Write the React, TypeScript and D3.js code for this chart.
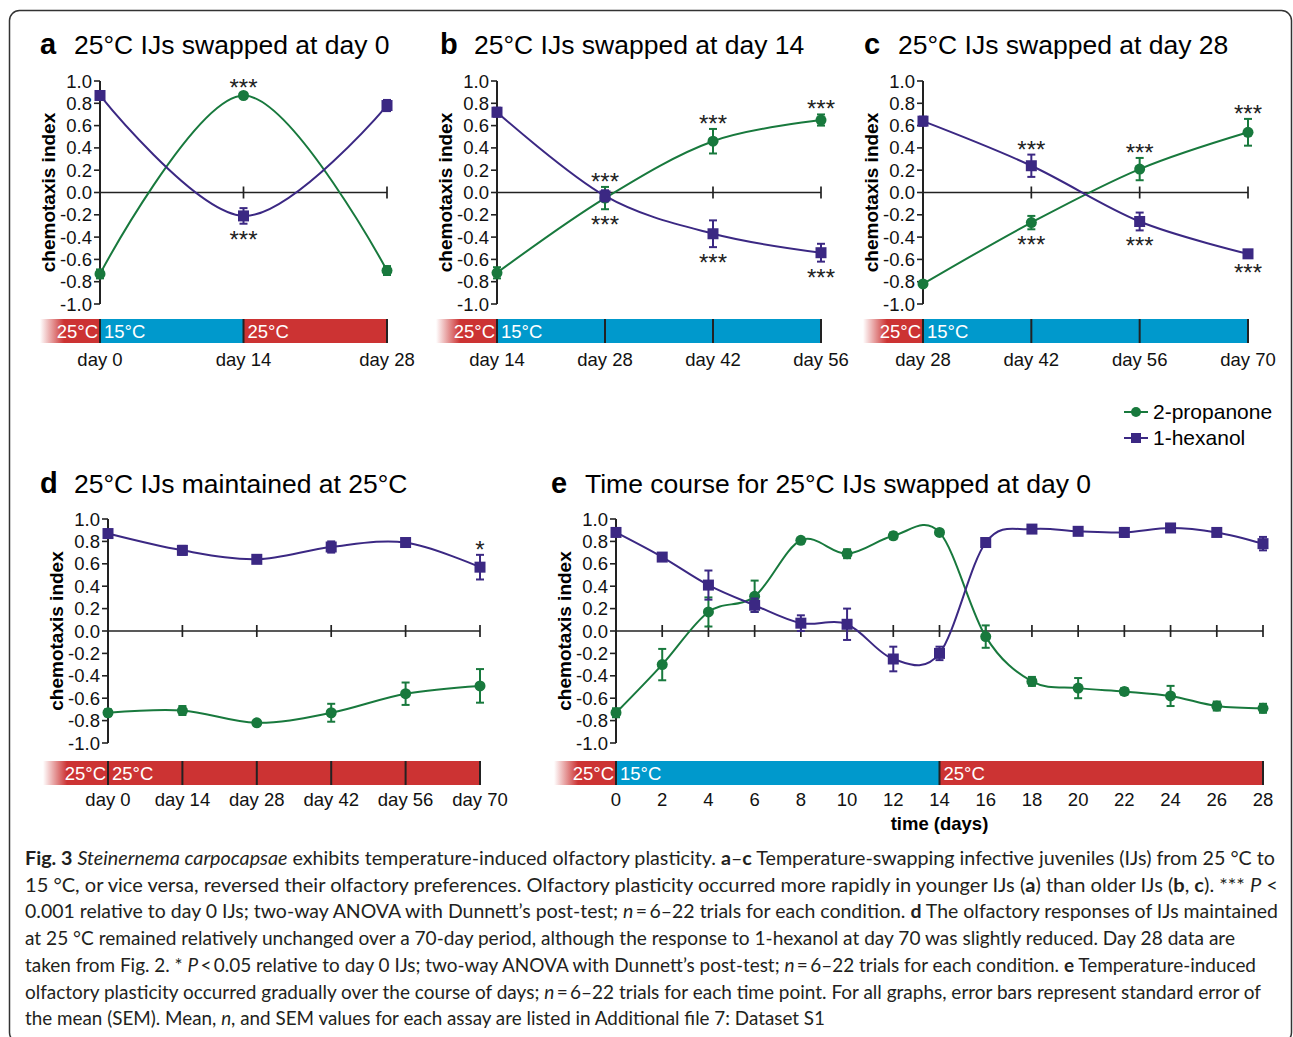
import React from 'react';
import * as d3 from 'd3';

// chemotaxis index values (mean, SEM)
const A_DAYS = [0, 14, 28];
const A_XLABELS = ['day 0', 'day 14', 'day 28'];
const A_PROP = [-0.73, 0.87, -0.7];
const A_PROP_SEM = [0.04, 0.02, 0.04];
const A_HEX = [0.87, -0.21, 0.78];
const A_HEX_SEM = [0.03, 0.07, 0.05];

const B_DAYS = [14, 28, 42, 56];
const B_XLABELS = ['day 14', 'day 28', 'day 42', 'day 56'];
const B_PROP = [-0.72, -0.05, 0.46, 0.65];
const B_PROP_SEM = [0.05, 0.1, 0.11, 0.05];
const B_HEX = [0.72, -0.03, -0.37, -0.54];
const B_HEX_SEM = [0.04, 0.05, 0.12, 0.08];

const C_DAYS = [28, 42, 56, 70];
const C_XLABELS = ['day 28', 'day 42', 'day 56', 'day 70'];
const C_PROP = [-0.82, -0.27, 0.21, 0.54];
const C_PROP_SEM = [0.02, 0.06, 0.1, 0.12];
const C_HEX = [0.64, 0.24, -0.26, -0.55];
const C_HEX_SEM = [0.04, 0.1, 0.08, 0.03];

const D_DAYS = [0, 14, 28, 42, 56, 70];
const D_XLABELS = ['day 0', 'day 14', 'day 28', 'day 42', 'day 56', 'day 70'];
const D_PROP = [-0.73, -0.71, -0.82, -0.73, -0.56, -0.49];
const D_PROP_SEM = [0.03, 0.04, 0.02, 0.08, 0.1, 0.15];
const D_HEX = [0.87, 0.72, 0.64, 0.75, 0.79, 0.57];
const D_HEX_SEM = [0.03, 0.04, 0.03, 0.05, 0.03, 0.11];

const E_DAYS = [0, 2, 4, 6, 8, 10, 12, 14, 16, 18, 20, 22, 24, 26, 28];
const E_XLABELS = ['0', '2', '4', '6', '8', '10', '12', '14', '16', '18', '20', '22', '24', '26', '28'];
const E_PROP = [-0.73, -0.3, 0.17, 0.31, 0.81, 0.69, 0.85, 0.88, -0.05, -0.45, -0.51, -0.54, -0.58, -0.67, -0.69];
const E_PROP_SEM = [0.04, 0.14, 0.13, 0.14, 0.02, 0.04, 0.03, 0.02, 0.1, 0.04, 0.09, 0.03, 0.09, 0.04, 0.04];
const E_HEX = [0.88, 0.66, 0.41, 0.23, 0.07, 0.06, -0.25, -0.2, 0.79, 0.91, 0.89, 0.88, 0.92, 0.88, 0.78];
const E_HEX_SEM = [0.03, 0.03, 0.13, 0.06, 0.07, 0.14, 0.11, 0.06, 0.02, 0.02, 0.02, 0.04, 0.02, 0.02, 0.06];

const Y_TICKS = [1.0, 0.8, 0.6, 0.4, 0.2, 0.0, -0.2, -0.4, -0.6, -0.8, -1.0];

// significance marks: point index, above/below the pair of points
const A_STARS = [{ i: 1, side: 'above', label: '***' }, { i: 1, side: 'below', label: '***' }];
const B_STARS = [1, 2, 3].flatMap((i) => [
  { i, side: 'above', label: '***' },
  { i, side: 'below', label: '***' },
]);
const C_STARS = B_STARS;
const D_STARS = [{ i: 5, side: 'above', label: '*' }];

// temperature bar segments (start day, end day, temperature)
const A_TEMPS = [{ from: 0, to: 14, t: '15°C' }, { from: 14, to: 28, t: '25°C' }];
const B_TEMPS = [{ from: 14, to: 56, t: '15°C' }];
const C_TEMPS = [{ from: 28, to: 70, t: '15°C' }];
const D_TEMPS = [{ from: 0, to: 70, t: '25°C' }];
const E_TEMPS = [{ from: 0, to: 14, t: '15°C' }, { from: 14, to: 28, t: '25°C' }];

const GREEN = '#18793d';
const PURPLE = '#3b2883';
const RED = '#cc3333';
const BLUE = '#0099cc';
const INK = '#231f20';
const FONT = "'Liberation Sans', Arial, Helvetica, sans-serif";

type Star = { i: number; side: string; label: string };
type Temp = { from: number; to: number; t: string };

interface PanelCfg {
  id: string;
  letter: string;
  title: string;
  titleX: number;
  titleY: number;
  axisX: number;
  endX: number;
  yTop: number;
  yBot: number;
  barLeft: number;
  barY: number;
  labelY: number;
  days: number[];
  xLabels: string[];
  dividers: number[];
  prop: number[];
  propSem: number[];
  hex: number[];
  hexSem: number[];
  stars: Star[];
  temps: Temp[];
  xTitle?: string;
}

const fmt = (v: number) => v.toFixed(1);

const Panel: React.FC<{ cfg: PanelCfg }> = ({ cfg }) => {
  const x = d3
    .scaleLinear()
    .domain([cfg.days[0], cfg.days[cfg.days.length - 1]])
    .range([cfg.axisX, cfg.endX]);
  const y = d3.scaleLinear().domain([-1, 1]).range([cfg.yBot, cfg.yTop]);
  const line = d3
    .line<number>()
    .x((_, i) => x(cfg.days[i]))
    .y((v) => y(v))
    .curve(d3.curveCardinal.tension(0));
  const barH = 24;
  const y0 = y(0);

  const series = [
    { vals: cfg.prop, sem: cfg.propSem, color: GREEN, shape: 'circle' },
    { vals: cfg.hex, sem: cfg.hexSem, color: PURPLE, shape: 'square' },
  ];

  return (
    <g>
      <defs>
        <linearGradient id={`fade-${cfg.id}`} gradientUnits="userSpaceOnUse" x1={cfg.barLeft} x2={cfg.barLeft + 24} y1={0} y2={0}>
          <stop offset="0" stopColor={RED} stopOpacity={0} />
          <stop offset="1" stopColor={RED} stopOpacity={1} />
        </linearGradient>
      </defs>

      {/* title */}
      <text x={cfg.titleX} y={cfg.titleY} fontSize={29} fontWeight="bold" fill="#000">
        {cfg.letter}
      </text>
      <text x={cfg.titleX + 34} y={cfg.titleY} fontSize={26.5} fill="#000">
        {cfg.title}
      </text>

      {/* y axis */}
      <line x1={cfg.axisX} x2={cfg.axisX} y1={cfg.yTop} y2={cfg.yBot} stroke="#222" strokeWidth={2} />
      {Y_TICKS.map((t) => (
        <g key={t}>
          <line x1={cfg.axisX - 6} x2={cfg.axisX} y1={y(t)} y2={y(t)} stroke="#222" strokeWidth={1.6} />
          <text x={cfg.axisX - 8} y={y(t) + 6.5} fontSize={18.5} textAnchor="end" fill="#111">
            {fmt(t)}
          </text>
        </g>
      ))}
      <text
        transform={`translate(${cfg.axisX - 45},${(cfg.yTop + cfg.yBot) / 2}) rotate(-90)`}
        textAnchor="middle"
        fontSize={19}
        fontWeight="bold"
        fill="#000"
      >
        chemotaxis index
      </text>

      {/* zero line with day ticks */}
      <line x1={cfg.axisX} x2={cfg.endX} y1={y0} y2={y0} stroke="#222" strokeWidth={1.7} />
      {cfg.days.slice(1).map((d) => (
        <line key={d} x1={x(d)} x2={x(d)} y1={y0 - 6} y2={y0 + 6} stroke="#222" strokeWidth={1.7} />
      ))}

      {/* series */}
      {series.map((s, si) => (
        <g key={si}>
          <path d={line(s.vals) ?? ''} fill="none" stroke={s.color} strokeWidth={2} />
          {s.vals.map((v, i) => {
            const cx = x(cfg.days[i]);
            const hi = y(v + s.sem[i]);
            const lo = y(v - s.sem[i]);
            return (
              <g key={i}>
                <line x1={cx} x2={cx} y1={hi} y2={lo} stroke={s.color} strokeWidth={2} />
                <line x1={cx - 4} x2={cx + 4} y1={hi} y2={hi} stroke={s.color} strokeWidth={2} />
                <line x1={cx - 4} x2={cx + 4} y1={lo} y2={lo} stroke={s.color} strokeWidth={2} />
                {s.shape === 'circle' ? (
                  <circle cx={cx} cy={y(v)} r={5.5} fill={s.color} />
                ) : (
                  <rect x={cx - 5.5} y={y(v) - 5.5} width={11} height={11} fill={s.color} />
                )}
              </g>
            );
          })}
        </g>
      ))}

      {/* stars */}
      {cfg.stars.map((st, k) => {
        const top = Math.max(cfg.prop[st.i] + cfg.propSem[st.i], cfg.hex[st.i] + cfg.hexSem[st.i]);
        const bot = Math.min(cfg.prop[st.i] - cfg.propSem[st.i], cfg.hex[st.i] - cfg.hexSem[st.i]);
        const yy = st.side === 'above' ? y(top) + 3 : y(bot) + 24;
        return (
          <text key={k} x={x(cfg.days[st.i])} y={yy} textAnchor="middle" fontSize={24} fill="#222">
            {st.label}
          </text>
        );
      })}

      {/* temperature bar */}
      <rect x={cfg.barLeft} y={cfg.barY} width={cfg.axisX - cfg.barLeft} height={barH} fill={`url(#fade-${cfg.id})`} />
      {cfg.temps.map((t, k) => (
        <rect
          key={k}
          x={x(t.from)}
          y={cfg.barY}
          width={x(t.to) - x(t.from)}
          height={barH}
          fill={t.t === '15°C' ? BLUE : RED}
        />
      ))}
      {cfg.dividers.map((d) => (
        <line key={d} x1={x(d)} x2={x(d)} y1={cfg.barY} y2={cfg.barY + barH} stroke="#222" strokeWidth={2} />
      ))}
      <text x={cfg.axisX - 2} y={cfg.barY + 19} textAnchor="end" fontSize={18.5} fill="#fff">
        25°C
      </text>
      {cfg.temps.map((t, k) => (
        <text key={k} x={x(t.from) + 4} y={cfg.barY + 19} fontSize={18.5} fill="#fff">
          {t.t}
        </text>
      ))}

      {/* x labels */}
      {cfg.days.map((d, i) => (
        <text key={d} x={x(d)} y={cfg.labelY} textAnchor="middle" fontSize={18.5} fill="#111">
          {cfg.xLabels[i]}
        </text>
      ))}
      {cfg.xTitle && (
        <text x={(cfg.axisX + cfg.endX) / 2} y={cfg.labelY + 24} textAnchor="middle" fontSize={18.5} fontWeight="bold" fill="#000">
          {cfg.xTitle}
        </text>
      )}
    </g>
  );
};

const PANELS: PanelCfg[] = [
  {
    id: 'a', letter: 'a', title: '25°C IJs swapped at day 0', titleX: 40, titleY: 54,
    axisX: 100, endX: 387, yTop: 81, yBot: 304, barLeft: 40, barY: 319, labelY: 366,
    days: A_DAYS, xLabels: A_XLABELS, dividers: A_DAYS, prop: A_PROP, propSem: A_PROP_SEM,
    hex: A_HEX, hexSem: A_HEX_SEM, stars: A_STARS, temps: A_TEMPS,
  },
  {
    id: 'b', letter: 'b', title: '25°C IJs swapped at day 14', titleX: 440, titleY: 54,
    axisX: 497, endX: 821, yTop: 81, yBot: 304, barLeft: 436, barY: 319, labelY: 366,
    days: B_DAYS, xLabels: B_XLABELS, dividers: B_DAYS, prop: B_PROP, propSem: B_PROP_SEM,
    hex: B_HEX, hexSem: B_HEX_SEM, stars: B_STARS, temps: B_TEMPS,
  },
  {
    id: 'c', letter: 'c', title: '25°C IJs swapped at day 28', titleX: 864, titleY: 54,
    axisX: 923, endX: 1248, yTop: 81, yBot: 304, barLeft: 863, barY: 319, labelY: 366,
    days: C_DAYS, xLabels: C_XLABELS, dividers: C_DAYS, prop: C_PROP, propSem: C_PROP_SEM,
    hex: C_HEX, hexSem: C_HEX_SEM, stars: C_STARS, temps: C_TEMPS,
  },
  {
    id: 'd', letter: 'd', title: '25°C IJs maintained at 25°C', titleX: 40, titleY: 493,
    axisX: 108, endX: 480, yTop: 519, yBot: 743, barLeft: 43, barY: 761, labelY: 806,
    days: D_DAYS, xLabels: D_XLABELS, dividers: D_DAYS, prop: D_PROP, propSem: D_PROP_SEM,
    hex: D_HEX, hexSem: D_HEX_SEM, stars: D_STARS, temps: D_TEMPS,
  },
  {
    id: 'e', letter: 'e', title: 'Time course for 25°C IJs swapped at day 0', titleX: 551, titleY: 493,
    axisX: 616, endX: 1263, yTop: 519, yBot: 743, barLeft: 554, barY: 761, labelY: 806,
    days: E_DAYS, xLabels: E_XLABELS, dividers: [0, 14, 28], prop: E_PROP, propSem: E_PROP_SEM,
    hex: E_HEX, hexSem: E_HEX_SEM, stars: [], temps: E_TEMPS, xTitle: 'time (days)',
  },
];

type Run = [string, 'r' | 'b' | 'i'];
const CAPTION: { runs: Run[]; len: number }[] = [
  {
    len: 1250,
    runs: [
      ['Fig. 3', 'b'], [' ', 'r'], ['Steinernema carpocapsae', 'i'],
      [' exhibits temperature-induced olfactory plasticity. ', 'r'], ['a', 'b'], ['–', 'r'], ['c', 'b'],
      [' Temperature-swapping infective juveniles (IJs) from 25 °C to', 'r'],
    ],
  },
  {
    len: 1253,
    runs: [
      ['15 °C, or vice versa, reversed their olfactory preferences. Olfactory plasticity occurred more rapidly in younger IJs (', 'r'],
      ['a', 'b'], [') than older IJs (', 'r'], ['b', 'b'], [', ', 'r'], ['c', 'b'], ['). *** ', 'r'], ['P', 'i'], [' <', 'r'],
    ],
  },
  {
    len: 1253,
    runs: [
      ['0.001 relative to day 0 IJs; two-way ANOVA with Dunnett’s post-test; ', 'r'], ['n', 'i'],
      ['\u2009=\u20096–22 trials for each condition. ', 'r'], ['d', 'b'], [' The olfactory responses of IJs maintained', 'r'],
    ],
  },
  {
    len: 1210,
    runs: [
      ['at 25 °C remained relatively unchanged over a 70-day period, although the response to 1-hexanol at day 70 was slightly reduced. Day 28 data are', 'r'],
    ],
  },
  {
    len: 1231,
    runs: [
      ['taken from Fig. 2. * ', 'r'], ['P', 'i'], ['\u2009<\u20090.05 relative to day 0 IJs; two-way ANOVA with Dunnett’s post-test; ', 'r'],
      ['n', 'i'], ['\u2009=\u20096–22 trials for each condition. ', 'r'], ['e', 'b'], [' Temperature-induced', 'r'],
    ],
  },
  {
    len: 1236,
    runs: [
      ['olfactory plasticity occurred gradually over the course of days; ', 'r'], ['n', 'i'],
      ['\u2009=\u20096–22 trials for each time point. For all graphs, error bars represent standard error of', 'r'],
    ],
  },
  {
    len: 800,
    runs: [
      ['the mean (SEM). Mean, ', 'r'], ['n', 'i'], [', and SEM values for each assay are listed in Additional file 7: Dataset S1', 'r'],
    ],
  },
];

const App: React.FC = () => {
  return (
    <svg
      width={1293}
      height={1037}
      style={{ position: 'absolute', left: 0, top: 0, background: '#fff' }}
      fontFamily={FONT}
    >
      <rect x={0} y={0} width={1293} height={1037} fill="#fff" />
      <rect x={9.5} y={10.5} width={1282} height={1032} rx={10} fill="none" stroke="#333" strokeWidth={1.5} />

      {PANELS.map((p) => (
        <Panel key={p.id} cfg={p} />
      ))}

      {/* legend */}
      <g>
        <line x1={1124} x2={1148} y1={412} y2={412} stroke={GREEN} strokeWidth={2} />
        <circle cx={1136} cy={412} r={5} fill={GREEN} />
        <text x={1153} y={419} fontSize={21} fill="#000">2-propanone</text>
        <line x1={1124} x2={1148} y1={438} y2={438} stroke={PURPLE} strokeWidth={2} />
        <rect x={1131} y={433} width={10} height={10} fill={PURPLE} />
        <text x={1153} y={445} fontSize={21} fill="#000">1-hexanol</text>
      </g>

      {/* caption */}
      <g fontFamily="Lato, 'Open Sans', sans-serif" fontSize={18.5} fill={INK}>
        {CAPTION.map((ln, k) => (
          <text key={k} x={25} y={865 + k * 26.7} textLength={ln.len} lengthAdjust="spacingAndGlyphs">
            {ln.runs.map(([s, st], j) => (
              <tspan
                key={j}
                fontWeight={st === 'b' ? 'bold' : 'normal'}
                fontStyle={st === 'i' ? 'italic' : 'normal'}
              >
                {s}
              </tspan>
            ))}
          </text>
        ))}
      </g>
    </svg>
  );
};

export default App;
